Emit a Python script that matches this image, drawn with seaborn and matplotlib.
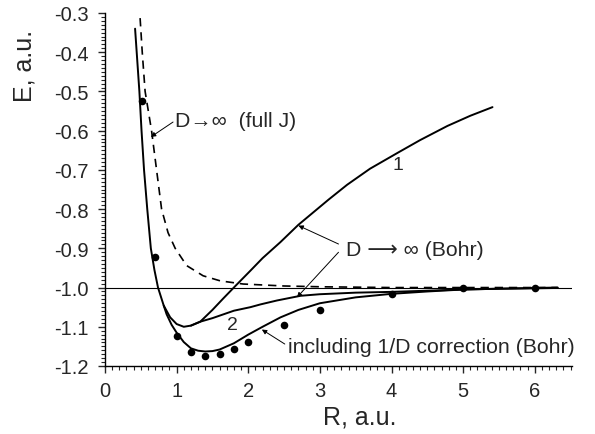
import numpy as np
import pandas as pd
import matplotlib
matplotlib.use("Agg")
import matplotlib.pyplot as plt
import seaborn as sns
from matplotlib.ticker import MultipleLocator, FormatStrFormatter

# ---- data ----
r_curve1 = [0.42, 0.45, 0.48, 0.51, 0.545, 0.59, 0.64, 0.69, 0.74, 0.82, 0.91, 1.0, 1.1, 1.2, 1.33,
            1.5, 1.65, 1.82, 2.03, 2.2, 2.45, 2.7, 3.12, 3.38, 3.7, 4.1, 4.4, 4.78, 5.1, 5.41]
e_curve1 = [-0.34, -0.42, -0.50, -0.60, -0.70, -0.80, -0.90, -0.955, -1.0, -1.046, -1.076, -1.093, -1.10, -1.097, -1.087,
            -1.057, -1.028, -0.996, -0.957, -0.925, -0.884, -0.84, -0.776, -0.738, -0.697, -0.655, -0.624, -0.588, -0.562, -0.54]

r_curve2 = [1.2, 1.33, 1.5, 1.8, 2.03, 2.17, 2.4, 2.73, 3.0, 3.5, 4.0, 4.5, 5.0, 5.5, 6.0, 6.32]
e_curve2 = [-1.097, -1.087, -1.078, -1.059, -1.050, -1.043, -1.033, -1.021, -1.017, -1.013, -1.011, -1.008,
            -1.005, -1.003, -1.002, -1.001]

r_corr = [0.82, 0.86, 0.93, 1.0, 1.1, 1.2, 1.3, 1.4, 1.5, 1.6, 1.8, 1.9, 2.0, 2.2, 2.45, 2.7, 3.0, 3.5,
          4.0, 4.5, 5.0, 5.5, 6.0, 6.32]
e_corr = [-1.046, -1.068, -1.095, -1.115, -1.139, -1.155, -1.161, -1.163, -1.162, -1.158, -1.142, -1.131,
          -1.12, -1.10, -1.076, -1.057, -1.04, -1.025, -1.016, -1.01, -1.005, -1.003, -1.001, -1.0]

r_fullj = [0.49, 0.52, 0.56, 0.65, 0.72, 0.79, 0.88, 0.98, 1.14, 1.37, 1.61, 1.93, 2.5, 3.0, 4.0, 5.0, 6.32]
e_fullj = [-0.313, -0.40, -0.50, -0.60, -0.70, -0.80, -0.86, -0.90, -0.944, -0.97, -0.983, -0.991,
           -0.996, -0.998, -1.0, -1.0, -1.0]

r_dots = [0.51, 0.70, 1.0, 1.2, 1.4, 1.6, 1.8, 2.0, 2.5, 3.0, 4.0, 5.0, 6.0]
e_dots = [-0.524, -0.922, -1.124, -1.165, -1.174, -1.170, -1.156, -1.138, -1.095, -1.057, -1.017, -1.002, -1.0]

x_ticks = [0, 1, 2, 3, 4, 5, 6]
y_ticks = [-1.2, -1.1, -1.0, -0.9, -0.8, -0.7, -0.6, -0.5, -0.4, -0.3]

# ---- style ----
sns.set_style("ticks")
plt.rcParams['font.family'] = ['Liberation Sans', 'DejaVu Sans']

fig = plt.figure(figsize=(5.95, 4.35), dpi=100)
ax = fig.add_axes([105/595, 1-367/435, (572-105)/595, (367-14)/435])

lw = 1.4
sns.lineplot(x=r_curve1, y=e_curve1, ax=ax, color='black', lw=lw, sort=False, estimator=None)
sns.lineplot(x=r_curve2, y=e_curve2, ax=ax, color='black', lw=lw, sort=False, estimator=None)
sns.lineplot(x=r_corr, y=e_corr, ax=ax, color='black', lw=lw, sort=False, estimator=None)
sns.lineplot(x=r_fullj, y=e_fullj, ax=ax, color='black', lw=1.2, sort=False, estimator=None,
             linestyle=(0, (5, 3.5)))
sns.scatterplot(x=r_dots, y=e_dots, ax=ax, color='black', s=30, edgecolor='black', linewidth=0, zorder=5)

ax.axhline(-1.0, color='black', lw=0.8, zorder=1)

ax.set_xlim(0, 6.52)
ax.set_ylim(-1.2, -0.3)
ax.set_xticks(x_ticks)
ax.set_yticks(y_ticks)
ax.yaxis.set_major_formatter(FormatStrFormatter('%.1f'))
ax.xaxis.set_minor_locator(MultipleLocator(0.1))
ax.yaxis.set_minor_locator(MultipleLocator(0.01))
ax.tick_params(axis='both', which='major', direction='out', length=5, width=1, labelsize=14.5)
ax.tick_params(axis='x', which='major', pad=6)
ax.tick_params(axis='y', which='major', pad=7)
ax.tick_params(axis='both', which='minor', direction='out', length=3, width=0.8)
for s in ['top', 'right']:
    ax.spines[s].set_visible(False)
for s in ['left', 'bottom']:
    ax.spines[s].set_linewidth(1.0)
    ax.spines[s].set_color('black')

ax.set_xlabel("R, a.u.", fontsize=18)
ax.set_ylabel("E, a.u.", fontsize=18)
ax.xaxis.set_label_coords(0.546, -0.108)
ax.yaxis.set_label_coords(-0.146, 0.853)

afs = 15.3
arrow = dict(arrowstyle='-|>', lw=0.7, color='black', mutation_scale=7, shrinkA=0, shrinkB=0)

ax.annotate("", xy=(0.64, -0.616), xytext=(0.95, -0.578), arrowprops=arrow)
ax.text(0.98, -0.573, "D\u2192\u221e  (full J)", fontsize=afs, va='center', ha='left')

ax.text(3.37, -0.902, "D \u27f6 \u221e (Bohr)", fontsize=afs, va='center', ha='left')
ax.annotate("", xy=(2.70, -0.842), xytext=(3.26, -0.889), arrowprops=arrow)
ax.annotate("", xy=(2.68, -1.025), xytext=(3.26, -0.91), arrowprops=arrow)

ax.text(2.56, -1.151, "including 1/D correction (Bohr)", fontsize=afs, va='center', ha='left')
ax.annotate("", xy=(2.19, -1.107), xytext=(2.51, -1.144), arrowprops=arrow)

ax.text(4.09, -0.685, "1", fontsize=14, va='center', ha='center')
ax.text(1.78, -1.093, "2", fontsize=14, va='center', ha='center')

fig.savefig("out.png", dpi=100)
